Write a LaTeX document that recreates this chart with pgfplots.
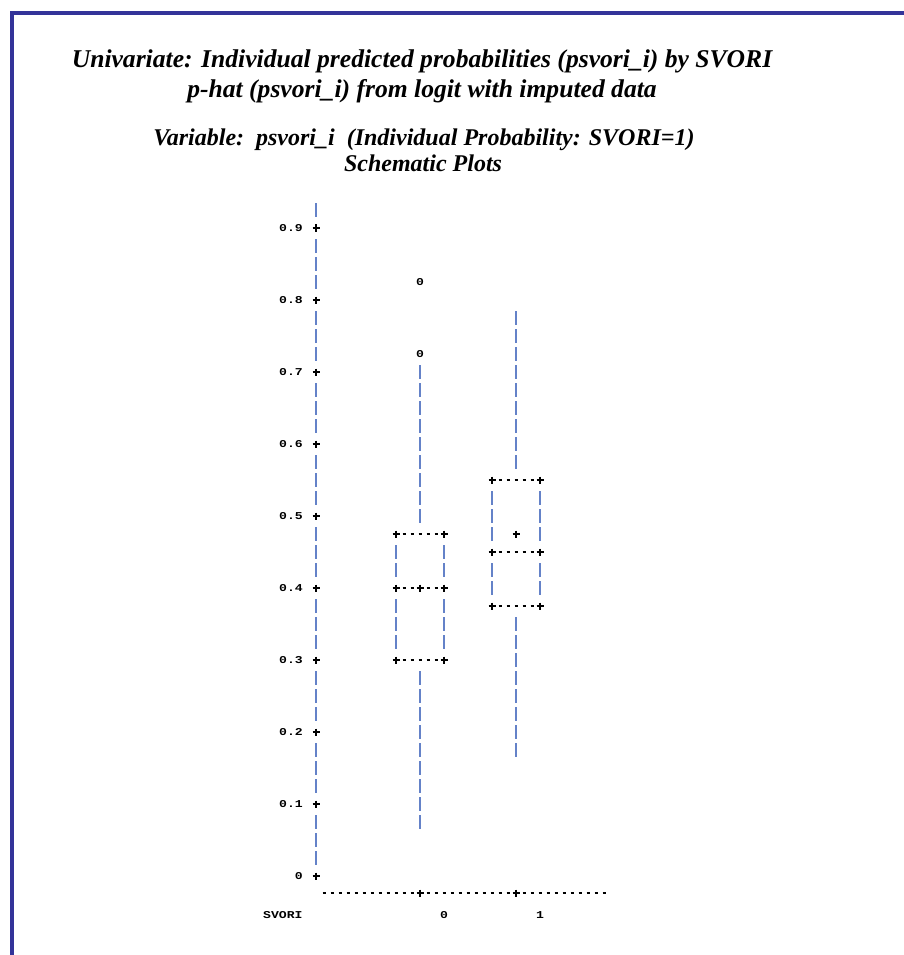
\documentclass[border=0pt]{standalone}
\usepackage{fontspec}
\setmainfont{Liberation Serif}
\newfontfamily\lp[FakeStretch=1.25]{Liberation Mono}
\usepackage{pgfplots}
\pgfplotsset{compat=1.18}
\definecolor{frameblue}{RGB}{51,51,153}
\definecolor{vbarcol}{RGB}{100,130,200}
\pgfplotsset{
  vbar/.style={draw=vbarcol, line width=1.3pt, dash pattern=on 14pt off 4pt, mark=none},
  hbar/.style={draw=black, line width=1.5pt, dash pattern=on 3pt off 5pt, mark=none},
  pl/.style={only marks, mark=+, mark size=3.5pt, mark options={draw=black, line width=1.2pt, solid}},
}
\newcommand{\ttl}{\bfseries\itshape\fontsize{25.6}{26}\selectfont}
\newcommand{\ttlb}{\bfseries\itshape\fontsize{24}{24}\selectfont}
\begin{document}
\begin{tikzpicture}[x=1pt,y=1pt]
\useasboundingbox (0,0) rectangle (903,-955);
\fill[white] (0,0) rectangle (903,-955);
\draw[frameblue, line width=4pt] (12,-957) -- (12,-13) -- (905,-13);
\node[anchor=base, font=\ttl, inner sep=0pt] at (422,-68) {Univariate: Individual predicted probabilities (psvori\_i) by SVORI};
\node[anchor=base, font=\ttl, inner sep=0pt] at (422,-98) {p-hat (psvori\_i) from logit with imputed data};
\node[anchor=base, font=\ttlb, inner sep=0pt] at (424,-146) {Variable:\ \ psvori\_i\ \ (Individual Probability: SVORI=1)};
\node[anchor=base, font=\ttlb, inner sep=0pt] at (423,-171) {Schematic Plots};
\node[anchor=base west, font=\lp\bfseries\fontsize{10.5}{10.5}\selectfont, inner sep=0pt] at (263,-918) {SVORI};
\node[anchor=base, font=\lp\bfseries\fontsize{10.5}{10.5}\selectfont, inner sep=0pt] at (444,-918) {0};
\node[anchor=base, font=\lp\bfseries\fontsize{10.5}{10.5}\selectfont, inner sep=0pt] at (540,-918) {1};
\begin{axis}[
  anchor=origin, at={(420pt,-876pt)},
  x=96pt, y=720pt,
  xmin=-1.0833, xmax=2, ymin=-0.04, ymax=0.95,
  clip=false,
  axis y line=left, axis x line=none,
  y axis line style={draw=none,-},
  ytick={0,0.1,0.2,0.3,0.4,0.5,0.6,0.7,0.8,0.9},
  major tick length=0pt,
  yticklabel style={font=\lp\bfseries\fontsize{10.5}{10.5}\selectfont, inner sep=0pt, anchor=east},
  yticklabel shift=13pt,
  /pgf/number format/assume math mode=true,
]
% y axis line and ticks
\addplot[draw=vbarcol, line width=1.3pt, dash pattern=on 14pt off 22pt on 14pt off 4pt on 14pt off 4pt] coordinates {(-1.0833,0.9347) (-1.0833,0)};
\addplot[pl] coordinates {(-1.0833,0)(-1.0833,0.1)(-1.0833,0.2)(-1.0833,0.3)(-1.0833,0.4)(-1.0833,0.5)(-1.0833,0.6)(-1.0833,0.7)(-1.0833,0.8)(-1.0833,0.9)};
% x axis line
\addplot[hbar] coordinates {(-1.0156,-0.0236) (1.953,-0.0236)};
\addplot[pl] coordinates {(0,-0.0236)(1,-0.0236)};
% group 0
\addplot[vbar] coordinates {(0,0.7097) (0,0.4903)};
\addplot[vbar] coordinates {(-0.25,0.4597) (-0.25,0.4153)};
\addplot[vbar] coordinates {(0.25,0.4597) (0.25,0.4153)};
\addplot[vbar] coordinates {(-0.25,0.3847) (-0.25,0.3153)};
\addplot[vbar] coordinates {(0.25,0.3847) (0.25,0.3153)};
\addplot[vbar] coordinates {(0,0.2847) (0,0.0653)};
\addplot[hbar] coordinates {(-0.1823,0.475) (0.1823,0.475)};
\addplot[hbar] coordinates {(-0.1823,0.4) (0.1823,0.4)};
\addplot[hbar] coordinates {(-0.1823,0.3) (0.1823,0.3)};
\addplot[pl] coordinates {(-0.25,0.475)(0.25,0.475)(-0.25,0.4)(0,0.4)(0.25,0.4)(-0.25,0.3)(0.25,0.3)};
\addplot[only marks, mark=text, text mark={\lp\bfseries\fontsize{10.5}{10.5}\selectfont 0}] coordinates {(0,0.725)(0,0.825)};
% group 1
\addplot[vbar] coordinates {(1,0.7847) (1,0.5653)};
\addplot[vbar] coordinates {(0.75,0.5347) (0.75,0.4653)};
\addplot[vbar] coordinates {(1.25,0.5347) (1.25,0.4653)};
\addplot[vbar] coordinates {(0.75,0.4347) (0.75,0.3903)};
\addplot[vbar] coordinates {(1.25,0.4347) (1.25,0.3903)};
\addplot[vbar] coordinates {(1,0.3597) (1,0.1653)};
\addplot[hbar] coordinates {(0.8177,0.55) (1.1823,0.55)};
\addplot[hbar] coordinates {(0.8177,0.45) (1.1823,0.45)};
\addplot[hbar] coordinates {(0.8177,0.375) (1.1823,0.375)};
\addplot[pl] coordinates {(0.75,0.55)(1.25,0.55)(0.75,0.45)(1.25,0.45)(0.75,0.375)(1.25,0.375)(1,0.475)};
\end{axis}
\end{tikzpicture}
\end{document}
